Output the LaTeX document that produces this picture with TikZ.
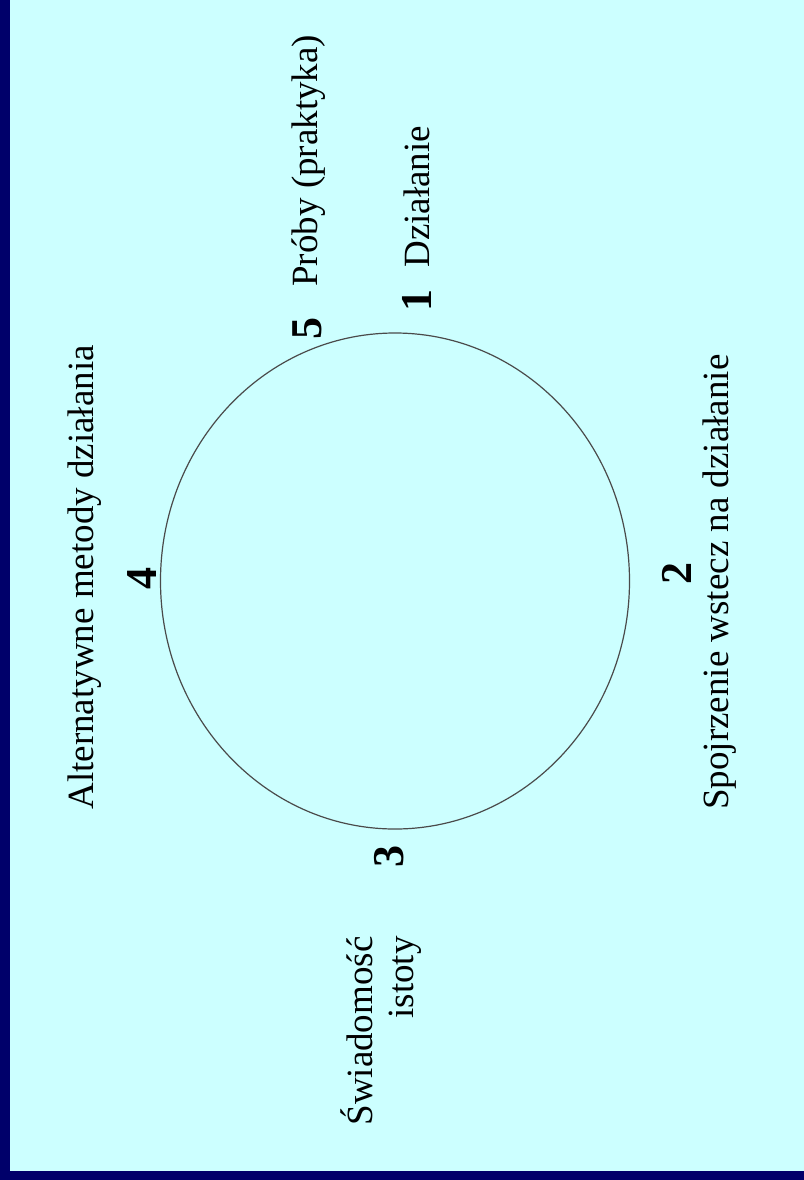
\documentclass[tikz,border=0pt]{standalone}
\usepackage{fontspec}
\setmainfont{Liberation Serif}
\usetikzlibrary{shapes.geometric, positioning}
\definecolor{SlideNavy}{HTML}{00006A}
\definecolor{SlideCyan}{HTML}{CCFFFF}
\definecolor{RingGray}{HTML}{4A4A4A}

\begin{document}
\begin{tikzpicture}[x=0.5pt, y=-0.5pt,
        txt/.style={rotate=90, inner sep=0pt, anchor=base west, font=\fontsize{18.5}{23}\selectfont},
        txtend/.style={txt, anchor=base east},
        num/.style={rotate=90, inner sep=0pt, anchor=center, font=\fontsize{22}{26}\selectfont\bfseries},
        ring/.style={ellipse, draw=RingGray, line width=0.6pt, minimum width=234.5pt, minimum height=248pt, inner sep=0pt}]

        \useasboundingbox (0,0) rectangle (804,1180);
        \fill[SlideCyan] (0,0) rectangle (804,1180);
        \fill[SlideNavy] (0,0) rectangle (9.5,1180);
        \fill[SlideNavy] (0,1171) rectangle (804,1180);

        \node[ring] (c) at (395,581) {};

        \node[num] (d1) at (417,300) {1};
        \node[num] (d2) at (677,573) {2};
        \node[num] (d3) at (389,856) {3};
        \node[num] (d4) at (142,578) {4};
        \node[num] (d5) at (307,328) {5};

        \node[txt] (t1) at (429,268) {Działanie};
        \node[txt] (t2) at (728,810) {Spojrzenie wstecz na działanie};
        \node[txtend] (t3a) at (372,936) {Świadomość};
        \node[txtend] (t3b) at (413,936) {istoty};
        \node[txt] (t4) at (93,810) {Alternatywne metody działania};
        \node[txt] (t5) at (317,287) {Próby (praktyka)};
    \end{tikzpicture}
\end{document}
